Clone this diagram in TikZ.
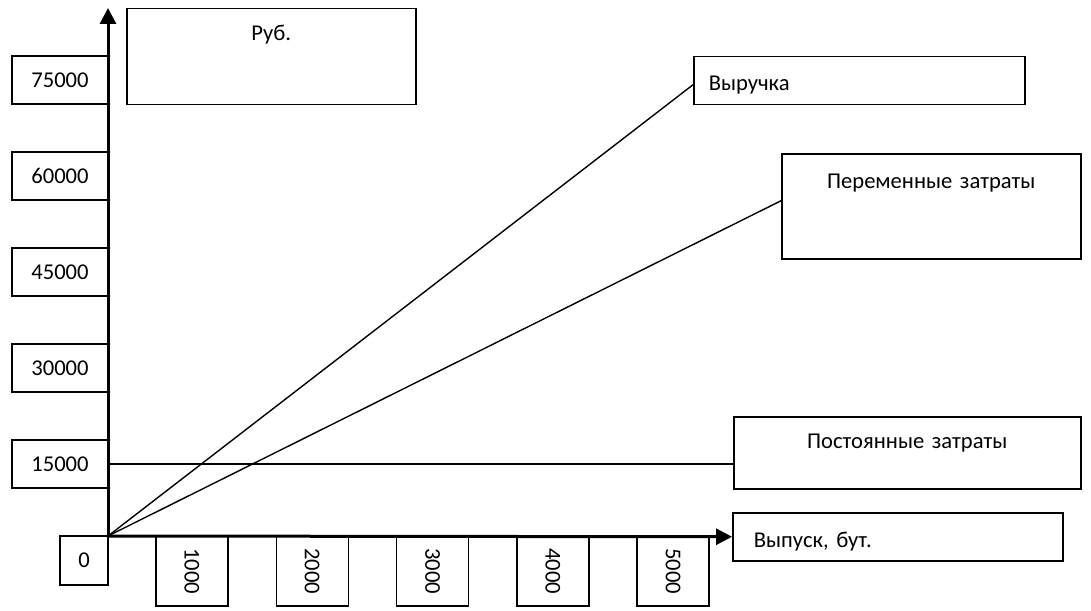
\documentclass[tikz,border=0pt]{standalone}
\usepackage{fontspec}
\setmainfont{Carlito}[WordSpace=0.7]
\usetikzlibrary{arrows.meta}

\begin{document}
\begin{tikzpicture}[x=0.5pt, y=-0.5pt, font=\fontsize{11.3pt}{13pt}\selectfont,
  tickbox/.style={draw, line width=0.75pt, inner sep=0pt, minimum width=48pt, minimum height=24pt},
  xtickbox/.style={draw, line width=0.75pt, inner sep=0pt, minimum width=35pt, minimum height=36pt, rotate=-90},
  textbox/.style={draw, line width=0.75pt, inner sep=0pt, anchor=north west},
  axis/.style={line width=1.5pt, -{Triangle[length=8pt, width=8pt]}},
  graph/.style={line width=0.7pt}]
\useasboundingbox (0,0) rectangle (1091,610);
\coordinate (o) at (108,536);
\coordinate (ytop) at (108,8);
\foreach \v [count=\i] in {15000,30000,45000,60000,75000}
  \node[tickbox] (y\i) at (60,560-96*\i) {\v};
\node[tickbox, minimum width=24pt, minimum height=24.5pt] (x0) at (84,560.5) {0};
\foreach \v [count=\i] in {1000,2000,3000,4000,5000}
  \node[xtickbox] (x\i) at (71.75+120.25*\i,571) {\v};
\node[textbox, text width=144.5pt, align=center, text height=16pt, text depth=32pt] (rub) at (126,8) {Руб.};
\node[textbox, inner xsep=7.5pt, text width=150.5pt, align=left, text height=17pt, text depth=7pt] (rev) at (693,56) {Выручка};
\node[textbox, text width=149.5pt, align=center, text height=17.5pt, text depth=35pt] (var) at (781,153) {Переменные затраты};
\node[textbox, text width=173.5pt, align=center, text height=16pt, text depth=20pt] (fixed) at (733,416) {Постоянные затраты};
\node[textbox, inner xsep=10.5pt, text width=144pt, align=left, text height=17.5pt, text depth=6.5pt] (out) at (732,512) {Выпуск, бут.};
\draw[axis] (o) -- (ytop);
\draw[axis] (o) -- (out.west);
\draw[graph] (o) -- ([yshift=-2pt]rev.west);
\draw[graph] (o) -- ([yshift=2.75pt]var.west);
\draw[graph] (y1.east) -- (y1.east -| fixed.west);
\end{tikzpicture}
\end{document}
